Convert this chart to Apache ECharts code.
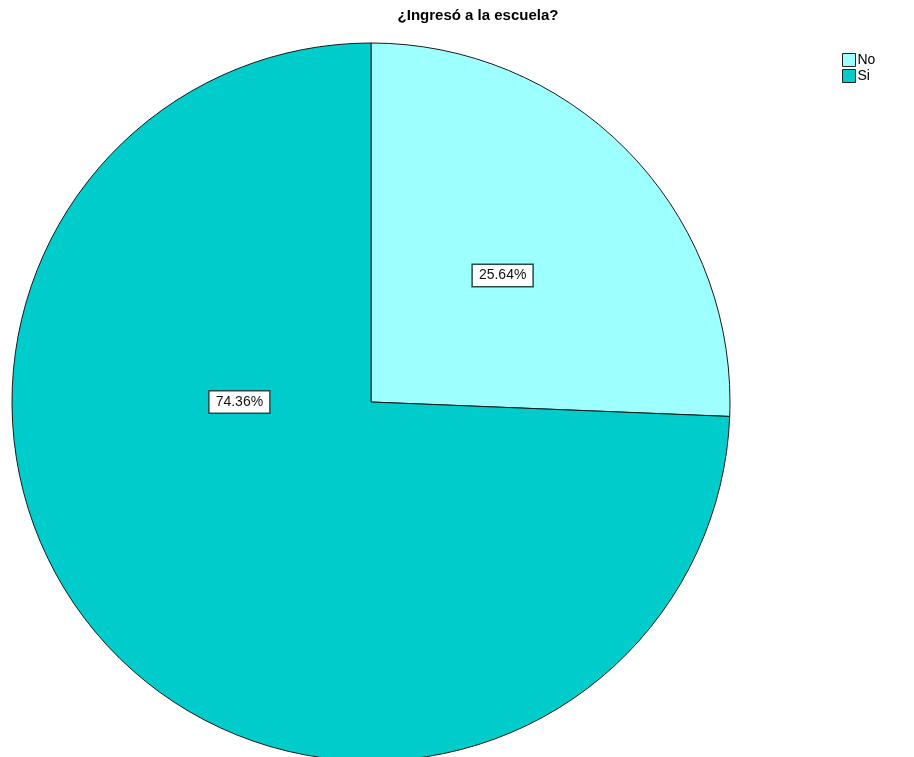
<!DOCTYPE html>
<html>
<head>
<meta charset="utf-8">
<script src="https://cdn.jsdelivr.net/npm/echarts@6/dist/echarts.min.js"></script>
<style>html,body{margin:0;padding:0;background:#fff}#c{width:914px;height:757px}</style>
</head>
<body>
<div id="c"></div>
<script>
var categories = ['No', 'Si'];
var counts = [10, 29];
var colors = ['#9effff', '#00cccc'];
var titleText = '¿Ingresó a la escuela?';

var total = counts.reduce(function(a, b){ return a + b; }, 0);
var chart = echarts.init(document.getElementById('c'), null, {renderer: 'canvas'});
var cx = 371, cy = 402;
chart.setOption({
  animation: false,
  backgroundColor: '#ffffff',
  title: {
    text: titleText,
    left: 473, top: 3,
    textAlign: 'center',
    textStyle: {fontFamily: 'Liberation Sans, Arial, sans-serif', fontSize: 15, fontWeight: 'bold', color: '#000'}
  },
  legend: {
    orient: 'vertical',
    left: 837, top: 48,
    itemWidth: 13, itemHeight: 13, itemGap: 2,
    icon: 'rect',
    selectedMode: false,
    textStyle: {fontFamily: 'Liberation Sans, Arial, sans-serif', fontSize: 14, color: '#000', padding: [0,0,0,-3]},
    itemStyle: {borderColor: '#222', borderWidth: 1},
    data: categories
  },
  series: [{
    type: 'pie',
    center: [cx, cy],
    radius: [0, 359],
    startAngle: 90,
    clockwise: true,
    silent: true,
    itemStyle: {borderColor: '#1a1a1a', borderWidth: 1},
    label: {
      show: true,
      position: 'inside',
      formatter: function(p){ return (p.value / total * 100).toFixed(2) + '%'; },
      fontFamily: 'Liberation Sans, Arial, sans-serif',
      fontSize: 14,
      color: '#111',
      backgroundColor: '#fff',
      borderColor: '#2a4a4a',
      borderWidth: 1.5,
      padding: [4, 6, 3, 6]
    },
    labelLayout: function(p){
      if (p.dataIndex === 1) {
        return {dy: cy - (p.labelRect.y + p.labelRect.height / 2)};
      }
      return {};
    },
    emphasis: {disabled: true},
    data: categories.map(function(c, i){ return {name: c, value: counts[i], itemStyle: {color: colors[i]}}; })
  }]
});
</script>
</body>
</html>
